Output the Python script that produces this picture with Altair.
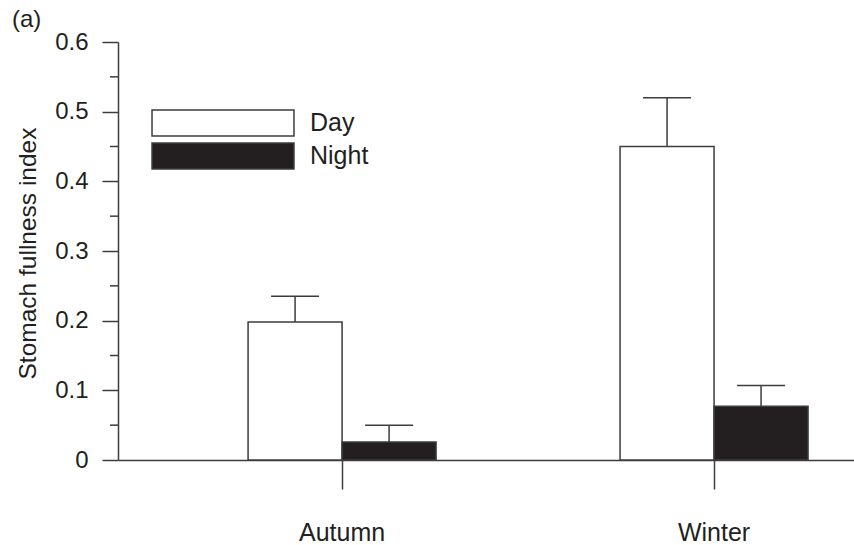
import altair as alt
import pandas as pd

# Stomach fullness by season and time of day (mean with upper error bar)
seasons = ["Autumn", "Winter"]
periods = ["Day", "Night"]
day_mean = [0.198, 0.450]
night_mean = [0.026, 0.077]
day_upper = [0.235, 0.520]
night_upper = [0.050, 0.107]
y_major = [0.0, 0.1, 0.2, 0.3, 0.4, 0.5, 0.6]
y_minor = [0.05, 0.15, 0.25, 0.35, 0.45, 0.55]

rows = []
for i, s in enumerate(seasons):
    rows.append({"season": s, "period": "Day", "mean": day_mean[i], "upper": day_upper[i]})
    rows.append({"season": s, "period": "Night", "mean": night_mean[i], "upper": night_upper[i]})
df = pd.DataFrame(rows)
minor_df = pd.DataFrame({"v": y_minor})

INK = "#231f20"
LINE = "#3d3d3d"
FONT = "Liberation Sans"

x_enc = alt.X(
    "season:N",
    sort=seasons,
    scale=alt.Scale(paddingInner=0.4946, paddingOuter=0.2366, align=0.739),
    axis=alt.Axis(
        title=None,
        labelAngle=0,
        labelFontSize=25,
        labelPadding=31,
        labelBaseline="top",
        tickSize=29,
        tickWidth=1.5,
        tickColor=LINE,
        domainColor=LINE,
        domainWidth=1.5,
    ),
)
xoff_enc = alt.XOffset("period:N", sort=periods, scale=alt.Scale(paddingInner=0, paddingOuter=0))
y_scale = alt.Scale(domain=[0, 0.6], nice=False, zero=True)

bars = alt.Chart(df).mark_bar(stroke=LINE, strokeWidth=1.5, opacity=1).encode(
    x=x_enc,
    xOffset=xoff_enc,
    y=alt.Y(
        "mean:Q",
        scale=y_scale,
        axis=alt.Axis(
            values=y_major,
            labelExpr="datum.value == 0 ? '0' : format(datum.value, '.1f')",
            tickSize=16,
            tickWidth=1.5,
            tickColor=LINE,
            domainColor=LINE,
            domainWidth=1.5,
            labelPadding=14,
            labelFontSize=24,
            grid=False,
            title="Stomach fullness index",
            titleFontSize=24.5,
            titleFontWeight="normal",
            titleX=-89.7,
            titleY=211,
            titleBaseline="middle",
        ),
    ),
    fill=alt.Fill(
        "period:N",
        sort=periods,
        scale=alt.Scale(domain=periods, range=["#ffffff", INK]),
        legend=alt.Legend(
            title=None,
            orient="none",
            legendX=91,
            legendY=67,
            padding=0,
            symbolType="M-5.46,-1L5.46,-1L5.46,1L-5.46,1Z",
            symbolSize=676,
            symbolStrokeColor=LINE,
            symbolStrokeWidth=1.5,
            symbolOpacity=1,
            labelFontSize=25,
            labelOffset=73,
            rowPadding=1,
        ),
    ),
)

# half-step ticks on the value axis
minor_ticks = alt.Chart(minor_df).mark_rule(color=LINE, strokeWidth=1.5).encode(
    y=alt.Y("v:Q", scale=y_scale),
    x=alt.value(-8),
    x2=alt.value(0),
)

err_line = alt.Chart(df).mark_rule(color=LINE, strokeWidth=1.5).encode(
    x=alt.X("season:N", sort=seasons),
    xOffset=alt.XOffset("period:N", sort=periods),
    y=alt.Y("mean:Q", scale=y_scale),
    y2="upper:Q",
)

err_cap = alt.Chart(df).mark_tick(color=LINE, size=48, thickness=1.5, opacity=1).encode(
    x=alt.X("season:N", sort=seasons),
    xOffset=alt.XOffset("period:N", sort=periods),
    y=alt.Y("upper:Q", scale=y_scale),
)

chart = (
    alt.layer(bars, err_line, err_cap, minor_ticks)
    .properties(
        width=736,
        height=418,
        autosize=alt.AutoSizeParams(type="none"),
        padding={"left": 118, "top": 42, "right": 0, "bottom": 85},
        title=alt.TitleParams(
            "(a)",
            anchor="start",
            frame="group",
            dx=-106,
            dy=24,
            offset=3,
            fontSize=24,
            fontWeight="normal",
            baseline="alphabetic",
            color=INK,
            font=FONT,
        ),
    )
    .configure(font=FONT)
    .configure_axis(labelColor=INK, titleColor=INK, labelFont=FONT, titleFont=FONT)
    .configure_legend(labelColor=INK, labelFont=FONT)
    .configure_view(stroke=None)
)

chart.save("out.html", embed_options={"renderer": "svg", "actions": False})
